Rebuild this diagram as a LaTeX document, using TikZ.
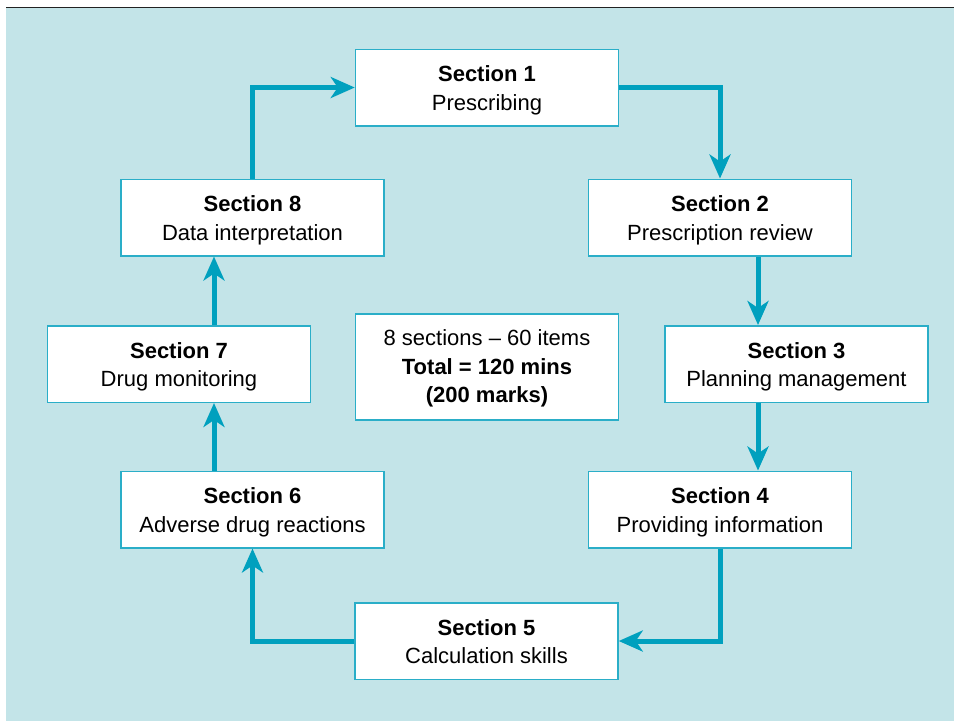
\documentclass[tikz,border=0pt]{standalone}
\usepackage{fontspec}
\setmainfont{Liberation Sans}
\usetikzlibrary{arrows.meta}
\definecolor{bgblue}{HTML}{C3E4E8}
\definecolor{arrowteal}{HTML}{00A0BE}
\definecolor{boxteal}{HTML}{2AAEC8}
\definecolor{topline}{HTML}{222222}
\newcommand{\mytopstrut}[1]{\rule{0pt}{#1}}
\newcommand{\mybotstrut}{\rule[-5pt]{0pt}{5pt}}
\newcommand{\sectext}[2]{\mytopstrut{22pt}\textbf{Section #1}\\#2\mybotstrut}
\tikzset{
  secbox/.style={draw=boxteal, line width=1.5pt, fill=white, align=center,
    minimum width=263pt, minimum height=76.5pt, inner sep=0pt,
    font=\fontsize{22}{28.5}\selectfont},
  flow/.style={draw=arrowteal, line width=5pt,
    -{Stealth[length=24pt,width=21pt,inset=7pt]}},
}
\begin{document}
\begin{tikzpicture}[x=1pt,y=-1pt]
\useasboundingbox (0,0) rectangle (954,721);
\fill[bgblue] (6,8) rectangle (954,721);
\draw[topline, line width=1.5pt] (6,7.5) -- (954,7.5);

\node[secbox] (s1) at (487,87.5) {\sectext{1}{Prescribing}};
\node[secbox] (s2) at (720,217.5) {\sectext{2}{Prescription review}};
\node[secbox] (s3) at (796.5,364) {\sectext{3}{Planning management}};
\node[secbox] (s4) at (720,509.5) {\sectext{4}{Providing information}};
\node[secbox] (s5) at (486.5,641) {\sectext{5}{Calculation skills}};
\node[secbox] (s6) at (252.5,509.5) {\sectext{6}{Adverse drug reactions}};
\node[secbox] (s7) at (179,364) {\sectext{7}{Drug monitoring}};
\node[secbox] (s8) at (252.5,217.5) {\sectext{8}{Data interpretation}};
\node[secbox, minimum height=106pt] (c) at (487,367) {\mytopstrut{19.5pt}8 sections -- 60 items\\\textbf{Total = 120 mins}\\\textbf{(200 marks)}\mybotstrut};

\draw[flow] (s1.east) -| (s2.north);
\draw[flow] (s2.south -| 758,0) -- (s3.north -| 758,0);
\draw[flow] (s3.south -| 758,0) -- (s4.north -| 758,0);
\draw[flow] (s4.south) |- (s5.east);
\draw[flow] (s5.west) -| (s6.south);
\draw[flow] (s6.north -| 214,0) -- (s7.south -| 214,0);
\draw[flow] (s7.north -| 214,0) -- (s8.south -| 214,0);
\draw[flow] (s8.north) |- (s1.west);
\end{tikzpicture}
\end{document}
